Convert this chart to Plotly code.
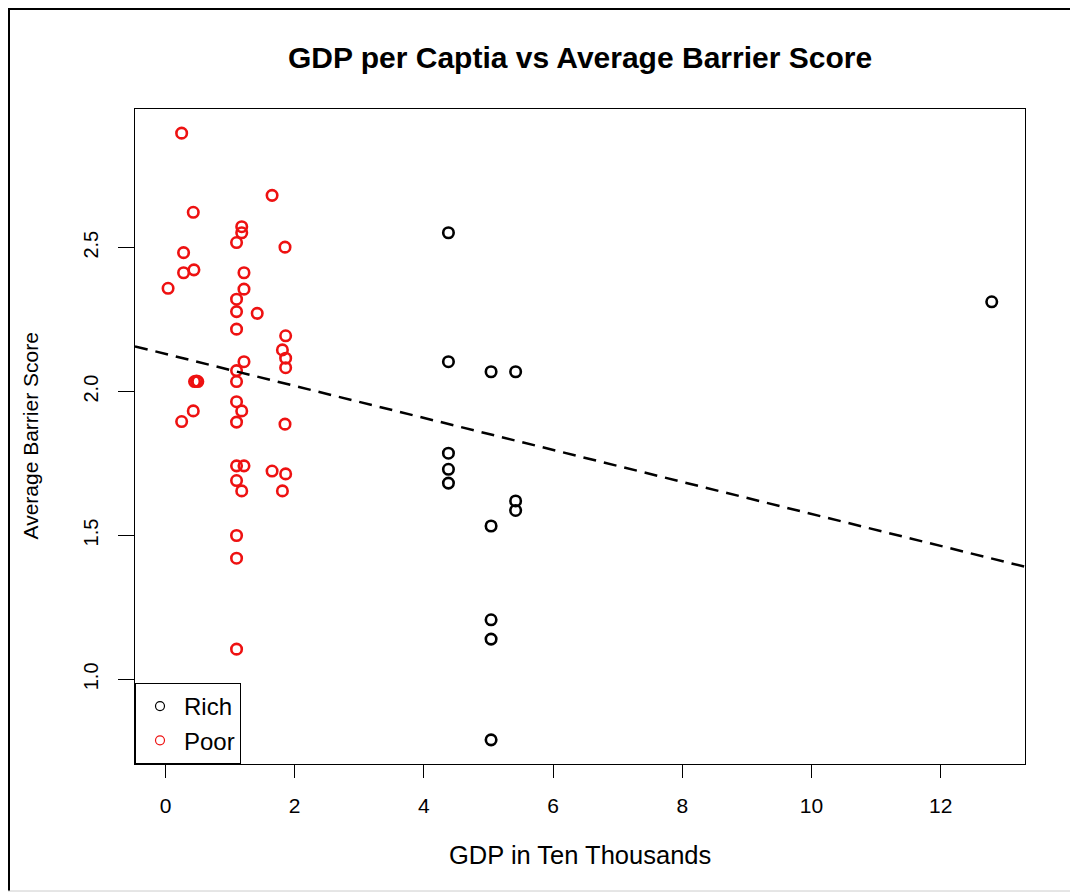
import plotly.graph_objects as go

# ---- data ----
rich_gdp = [4.38, 4.38, 5.04, 5.42, 4.38, 4.38, 4.38, 5.42, 5.42, 5.04, 5.04, 5.04, 5.04, 12.79]
rich_score = [2.552, 2.104, 2.069, 2.069, 1.786, 1.730, 1.682, 1.620, 1.587, 1.533, 1.207, 1.140, 0.790, 2.312]

poor_gdp = [0.25, 1.65, 0.43, 1.18, 1.18, 1.10, 1.85, 0.28, 0.28, 0.44, 1.215, 0.04, 1.215, 1.10,
            1.10, 1.42, 1.10, 1.86, 1.81, 1.86, 1.215, 1.86, 1.10, 1.10, 0.45, 0.48, 0.50,
            1.10, 0.43, 1.18, 0.25, 1.10, 1.85, 1.10, 1.215, 1.65, 1.86, 1.10, 1.18, 1.81,
            1.10, 1.10, 1.10]
poor_score = [2.898, 2.682, 2.623, 2.573, 2.552, 2.518, 2.502, 2.483, 2.413, 2.423, 2.413, 2.359, 2.356, 2.321,
              2.278, 2.272, 2.217, 2.194, 2.145, 2.116, 2.104, 2.083, 2.073, 2.035, 2.035, 2.037, 2.035,
              1.965, 1.933, 1.933, 1.896, 1.894, 1.887, 1.742, 1.742, 1.724, 1.714, 1.691, 1.655, 1.655,
              1.500, 1.421, 1.105]

fit_intercept = 2.131
fit_slope = -0.0556

x_ticks = [0, 2, 4, 6, 8, 10, 12]
y_ticks = [1.0, 1.5, 2.0, 2.5]
x_range = [-0.472, 13.305]
y_range = [0.706, 2.982]

title_text = "GDP per Captia vs Average Barrier Score"
x_title = "GDP in Ten Thousands"
y_title = "Average Barrier Score"
legend_names = ["Rich", "Poor"]

FONT = "Liberation Sans, Arial, sans-serif"
RED = "#ee1111"

fig = go.Figure()

fig.add_trace(go.Scatter(
    x=rich_gdp, y=rich_score, mode="markers", showlegend=False,
    marker=dict(symbol="circle-open", size=10.5, color="black", line=dict(width=2.6, color="black")),
))
fig.add_trace(go.Scatter(
    x=poor_gdp, y=poor_score, mode="markers", showlegend=False,
    marker=dict(symbol="circle-open", size=10.5, color=RED, line=dict(width=2.6, color=RED)),
))

# regression line (abline) across the whole plot
fig.add_trace(go.Scatter(
    x=x_range, y=[fit_intercept + fit_slope * v for v in x_range],
    mode="lines", showlegend=False,
    line=dict(color="black", width=2.5, dash="13px,8px"),
))

# legend entries
fig.add_trace(go.Scatter(
    x=[None], y=[None], mode="markers", name=legend_names[0],
    marker=dict(symbol="circle-open", size=9, color="black", line=dict(width=1.2, color="black")),
))
fig.add_trace(go.Scatter(
    x=[None], y=[None], mode="markers", name=legend_names[1],
    marker=dict(symbol="circle-open", size=9, color=RED, line=dict(width=1.2, color=RED)),
))

# page has an 8px body margin: figure is 1070x887 drawn at (8, 8)
W, H = 1070, 887
L, R, T, B = 127, 53, 101, 131
PW, PH = W - L - R, H - T - B   # 890 x 655


def px_x(sx):  # screen x -> paper x
    return (sx - 8 - L) / PW


def px_y(sy):  # screen y -> paper y
    return (H - B - (sy - 8)) / PH


fig.update_layout(
    width=W, height=H,
    margin=dict(l=L, r=R, t=T, b=B, autoexpand=False),
    paper_bgcolor="white", plot_bgcolor="white",
    font=dict(family=FONT, color="black"),
    title=dict(text="<b>" + title_text + "</b>", x=0.5, xref="paper", xanchor="center",
               y=1 - 49 / H, yref="container", yanchor="middle",
               font=dict(size=30, family=FONT, color="black")),
    showlegend=True,
    legend=dict(x=0, y=0, xanchor="left", yanchor="bottom", xref="paper", yref="paper",
                bgcolor="white", bordercolor="black", borderwidth=1,
                font=dict(size=24, family=FONT, color="black"),
                itemwidth=38, tracegroupgap=0, traceorder="normal"),
    xaxis=dict(range=x_range, tickvals=x_ticks, ticktext=[str(v) for v in x_ticks],
               showgrid=False, zeroline=False, showline=True, linecolor="black", linewidth=1,
               mirror=True, ticks="outside", ticklen=13, tickwidth=1, tickcolor="black",
               ticklabelstandoff=10,
               tickfont=dict(size=21, family=FONT, color="black")),
    yaxis=dict(range=y_range, tickvals=y_ticks, ticktext=["%.1f" % v for v in y_ticks],
               showgrid=False, zeroline=False, showline=True, linecolor="black", linewidth=1,
               mirror=True, ticks="outside", ticklen=16, tickwidth=1, tickcolor="black",
               tickangle=-90, ticklabelstandoff=12,
               tickfont=dict(size=20, family=FONT, color="black")),
    annotations=[
        dict(text=x_title, xref="paper", yref="paper", x=0.5, y=px_y(855),
             xanchor="center", yanchor="middle", showarrow=False,
             font=dict(size=25.5, family=FONT, color="black")),
        dict(text=y_title, xref="paper", yref="paper", x=px_x(30), y=0.5,
             xanchor="center", yanchor="middle", showarrow=False, textangle=-90,
             font=dict(size=21, family=FONT, color="black")),
    ],
    shapes=[
        dict(type="line", xref="paper", yref="paper", x0=px_x(8), x1=px_x(1078),
             y0=px_y(9), y1=px_y(9), line=dict(color="black", width=2)),
        dict(type="line", xref="paper", yref="paper", x0=px_x(9), x1=px_x(9),
             y0=px_y(9), y1=px_y(891), line=dict(color="black", width=2)),
        dict(type="line", xref="paper", yref="paper", x0=px_x(8), x1=px_x(1078),
             y0=px_y(891), y1=px_y(891), line=dict(color="#cccccc", width=1)),
    ],
)

fig.write_html("out.html")
